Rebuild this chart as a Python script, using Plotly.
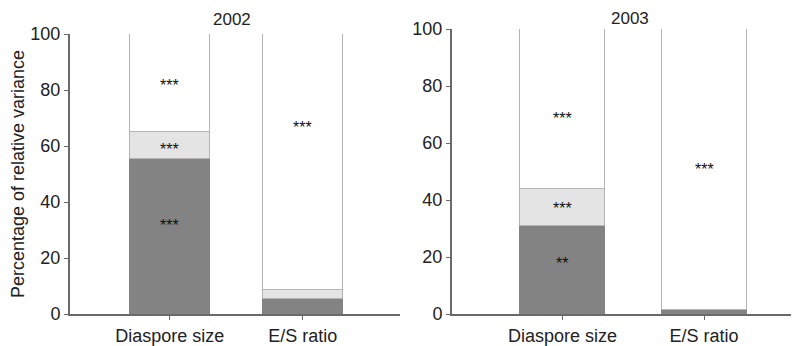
import plotly.graph_objects as go

# page body has an 8px margin; size the figure to the visible part of the window
OFF = 8
W, H = 799 - OFF, 346 - OFF

categories = ["Diaspore size", "E/S ratio"]
years = ["2002", "2003"]

# stacked segments (percent)
dark_2002 = [55.5, 5.5]
light_2002 = [9.5, 3.0]
white_2002 = [35.0, 91.5]

dark_2003 = [31.0, 1.5]
light_2003 = [13.0, 0.0]
white_2003 = [56.0, 98.5]

# significance labels: (category index, y position, text)
stars_2002 = [(0, 83, "***"), (0, 60, "***"), (0, 33, "***"), (1, 68, "***")]
stars_2003 = [(0, 70, "***"), (0, 38.5, "***"), (0, 19, "**"), (1, 52, "***")]

y_ticks = [0, 20, 40, 60, 80, 100]

DARK = "#838383"
LIGHT = "#e4e4e4"
WHITE = "#ffffff"
EDGE = "#b4b4b4"
AXIS = "#6a6a6a"
FONT = "Liberation Sans, Arial, sans-serif"


def px(x):
    return (x - OFF) / W


def py(y):
    return 1 - (y - OFF) / H


fig = go.Figure()

panels = [
    ("x", "y", dark_2002, light_2002, white_2002, stars_2002),
    ("x2", "y2", dark_2003, light_2003, white_2003, stars_2003),
]
xi = [0, 1]
for xa, ya, d, l, w, st in panels:
    for vals, col in [(d, DARK), (l, LIGHT), (w, WHITE)]:
        fig.add_trace(go.Bar(
            x=xi, y=vals, xaxis=xa, yaxis=ya, width=0.6,
            marker=dict(color=col, line=dict(color=EDGE if col != DARK else DARK, width=1.4)),
            showlegend=False, hoverinfo="skip"))
    for ci, yv, txt in st:
        fig.add_annotation(x=ci, y=yv, xref=xa, yref=ya, text=txt, showarrow=False, yshift=-4,
                           font=dict(size=16, color="#111111", family=FONT))

axis_common = dict(showline=True, linecolor=AXIS, linewidth=2, ticks="outside",
                   tickcolor=AXIS, ticklen=4, tickwidth=1.2, showgrid=False, zeroline=False,
                   automargin=False,
                   tickfont=dict(size=18, color="#222222", family=FONT))

fig.update_layout(
    width=W, height=H, barmode="stack", bargap=0,
    plot_bgcolor="white", paper_bgcolor="white",
    margin=dict(l=0, r=0, t=0, b=0),
    xaxis=dict(domain=[px(70), px(400)], range=[-0.75, 1.73], tickvals=xi, ticktext=categories,
               anchor="y", **axis_common),
    yaxis=dict(domain=[py(314), py(34)], range=[0, 100], tickvals=y_ticks,
               anchor="x", title=dict(text="Percentage of relative variance",
                                      font=dict(size=18, color="#222222", family=FONT), standoff=6),
               **axis_common),
    xaxis2=dict(domain=[px(452), 1.0], range=[-0.78, 1.67], tickvals=xi, ticktext=categories,
                anchor="y2", **axis_common),
    yaxis2=dict(domain=[py(314), py(29)], range=[0, 100], tickvals=y_ticks,
                anchor="x2", **axis_common),
)

fig.add_annotation(x=px(232), y=py(20), xref="paper", yref="paper", text=years[0],
                   xanchor="center", yanchor="middle",
                   showarrow=False, font=dict(size=17, color="#222222", family=FONT))
fig.add_annotation(x=px(630), y=py(18.5), xref="paper", yref="paper", text=years[1],
                   xanchor="center", yanchor="middle",
                   showarrow=False, font=dict(size=17, color="#222222", family=FONT))

fig.write_html("out.html")
